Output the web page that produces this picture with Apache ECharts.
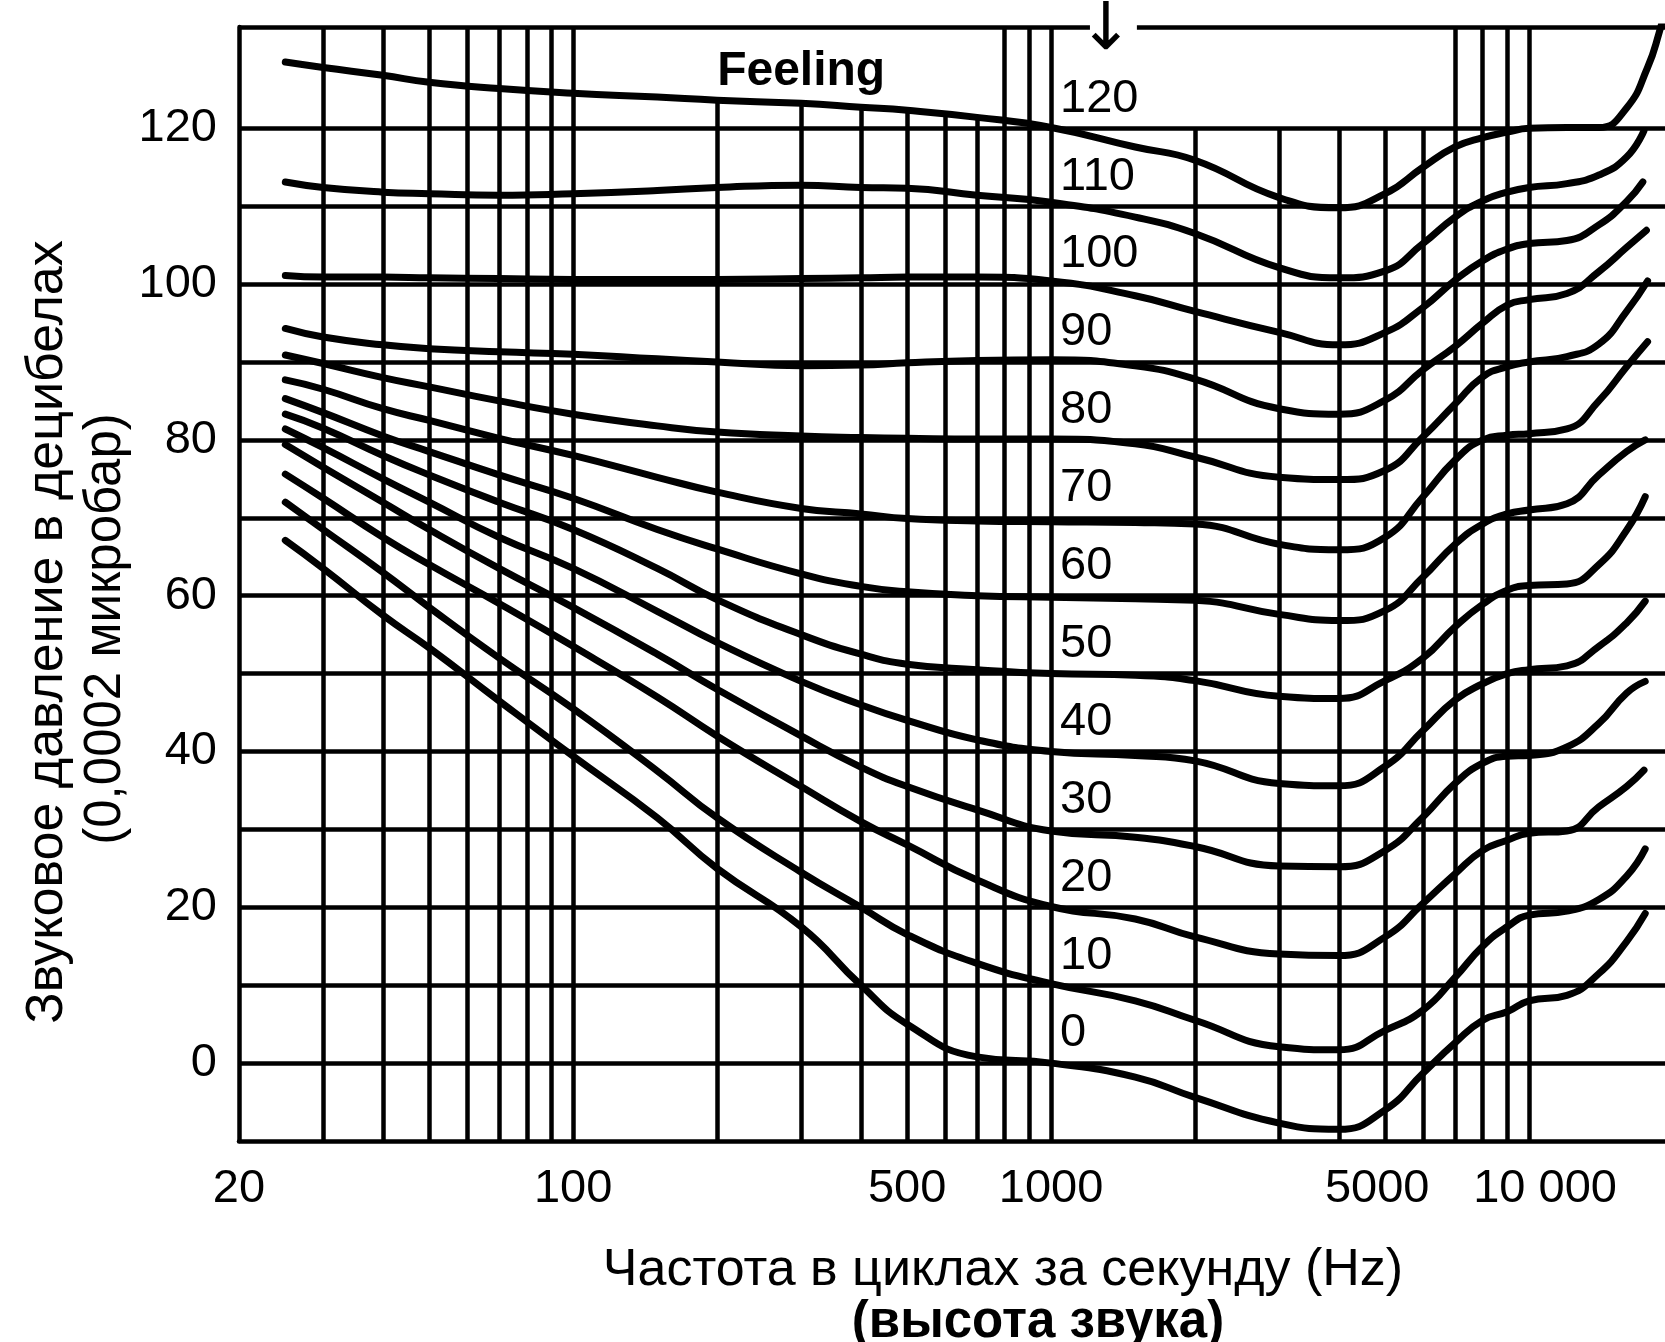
<!DOCTYPE html>
<html><head><meta charset="utf-8">
<script src="https://cdn.jsdelivr.net/npm/echarts@6/dist/echarts.min.js"></script>
<style>html,body{margin:0;padding:0;background:#fff}#c{width:1665px;height:1342px}</style>
</head><body><div id="c"></div>
<script>
// ---------- data ----------
const freq = [25, 30, 40, 50, 70, 100, 150, 200, 300, 400, 500, 700, 1000, 1500, 2000, 3000, 4000, 5000, 6000, 7000, 8000, 9000, 10000, 12000, 14000, 16000];
const phon = [120, 110, 100, 90, 80, 70, 60, 50, 40, 30, 20, 10, 0];
const db120 = [128.5, 127.8, 126.8, 125.9, 125.1, 124.5, 124.0, 123.6, 123.2, 122.7, 122.3, 121.4, 120.1, 117.6, 115.9, 111.1, 109.8, 111.6, 115.0, 117.6, 118.8, 119.5, 120.0, 120.1, 120.1, 122.6];
const db110 = [113.1, 112.4, 111.8, 111.6, 111.4, 111.6, 112.0, 112.4, 112.7, 112.4, 112.3, 111.4, 110.5, 108.6, 106.5, 102.1, 100.8, 101.7, 105.2, 108.6, 110.7, 111.8, 112.4, 112.9, 114.0, 116.3];
const db100 = [101.1, 100.9, 100.9, 100.8, 100.7, 100.6, 100.6, 100.6, 100.7, 100.8, 100.9, 100.9, 100.4, 98.5, 96.5, 93.8, 92.2, 93.8, 97.0, 100.5, 103.0, 104.5, 105.2, 105.6, 107.6, 110.6];
const db90 = [94.3, 93.2, 92.2, 91.7, 91.3, 91.0, 90.4, 90.0, 89.5, 89.6, 89.9, 90.2, 90.3, 89.5, 87.8, 84.0, 83.3, 85.1, 89.0, 92.0, 95.0, 97.3, 98.0, 98.8, 101.6, 104.7];
const db80 = [90.9, 89.8, 88.0, 86.8, 85.0, 83.3, 81.8, 81.0, 80.5, 80.3, 80.2, 80.1, 80.1, 79.5, 77.8, 75.2, 74.9, 76.1, 80.4, 84.6, 88.1, 89.4, 90.0, 90.7, 92.3, 96.5];
const db70 = [87.7, 86.5, 84.0, 82.5, 80.2, 78.0, 75.2, 73.3, 71.2, 70.5, 69.9, 69.6, 69.5, 69.4, 69.2, 66.6, 65.9, 67.5, 72.7, 77.4, 80.0, 80.6, 80.8, 81.4, 85.0, 89.4];
const db60 = [85.3, 83.5, 80.5, 78.5, 75.5, 72.5, 68.5, 66.0, 62.8, 61.2, 60.5, 60.0, 59.8, 59.6, 59.4, 57.6, 56.8, 58.1, 62.4, 66.6, 69.2, 70.5, 71.0, 71.8, 75.5, 78.5];
const db50 = [83.3, 81.5, 78.0, 75.5, 72.0, 68.5, 63.5, 59.5, 55.0, 52.5, 51.2, 50.5, 50.0, 49.8, 49.1, 47.1, 46.8, 49.1, 52.0, 56.0, 58.9, 60.7, 61.3, 61.5, 64.0, 68.4];
const db40 = [81.4, 79.0, 75.0, 72.0, 67.5, 63.5, 58.0, 54.0, 49.0, 46.0, 44.0, 41.5, 40.0, 39.5, 38.8, 35.9, 35.6, 38.1, 42.7, 46.6, 48.7, 50.0, 50.5, 51.0, 53.5, 56.5];
const db30 = [79.4, 76.5, 72.0, 68.5, 63.5, 58.5, 52.5, 48.0, 42.0, 38.0, 35.5, 32.5, 29.8, 29.0, 27.8, 25.3, 25.2, 27.3, 31.6, 35.9, 38.5, 39.4, 39.5, 40.6, 43.6, 47.5];
const db20 = [75.6, 72.5, 67.5, 64.0, 59.0, 53.5, 47.0, 42.0, 35.5, 31.0, 28.0, 23.5, 20.1, 18.5, 16.2, 14.0, 13.8, 16.2, 20.5, 24.3, 27.3, 28.6, 29.5, 29.8, 32.9, 35.5];
const db10 = [72.0, 68.5, 63.0, 58.5, 52.0, 45.5, 37.5, 31.5, 24.5, 20.0, 16.5, 12.8, 10.2, 8.0, 5.5, 2.1, 1.7, 4.2, 6.8, 11.0, 15.0, 17.5, 19.0, 19.5, 21.0, 24.0];
const db0 = [67.1, 63.5, 57.5, 53.3, 46.5, 39.4, 31.5, 25.0, 17.5, 10.0, 5.0, 0.8, 0.0, -1.8, -4.4, -7.7, -8.5, -6.0, -1.3, 2.6, 5.5, 6.6, 8.0, 8.7, 11.5, 15.6];
const curves = [db120, db110, db100, db90, db80, db70, db60, db50, db40, db30, db20, db10, db0];
// high-frequency ends of the curves
const extraFreq120 = [17700, 18700];
const extraDb120 = [127.8, 132.2];
const endFreq = [19600, 17400, 17300, 17600, 17700, 17700, 17500, 17500, 17500, 17500, 17400, 17500, 17500];
const endDb = [137.0, 119.7, 113.1, 106.9, 100.4, 92.6, 80.0, 72.7, 59.3, 49.0, 37.6, 27.5, 19.2];
// grid
const yGridLines = [0, 10, 20, 30, 40, 50, 60, 70, 80, 90, 100, 110, 120];
const xGridFull = [30, 40, 50, 60, 70, 80, 90, 100, 800, 900, 1000, 7000, 8000, 9000, 10000];
const xGridToCurve = [200, 300, 400, 500, 600, 700];
const xGridTo120 = [2000, 3000, 4000, 5000, 6000];
const xTickLabels = [20, 100, 500, 1000, 5000, 10000];
const yTickLabels = [0, 20, 40, 60, 80, 100, 120];

const X_MIN = 20, X_MAX = 19250, Y_MIN = -10, Y_MAX = 133;
const FONT = '"Liberation Sans", Arial, Helvetica, sans-serif';
const INK = '#000000';

function interpCurve(vals, f) {
  const lf = Math.log10(f);
  for (let i = 0; i < freq.length - 1; i++) {
    if (f >= freq[i] && f <= freq[i + 1]) {
      const a = Math.log10(freq[i]), b = Math.log10(freq[i + 1]);
      const t = (lf - a) / (b - a);
      return vals[i] + t * (vals[i + 1] - vals[i]);
    }
  }
  return vals[vals.length - 1];
}

const gridLineData = [];
yGridLines.forEach(v => gridLineData.push([{ coord: [X_MIN, v] }, { coord: [X_MAX, v] }]));
xGridFull.forEach(f => gridLineData.push([{ coord: [f, Y_MIN] }, { coord: [f, Y_MAX] }]));
xGridToCurve.forEach(f => gridLineData.push([{ coord: [f, Y_MIN] }, { coord: [f, interpCurve(db120, f)] }]));
xGridTo120.forEach(f => gridLineData.push([{ coord: [f, Y_MIN] }, { coord: [f, 120] }]));
// top border with a gap for the arrow
gridLineData.push([{ coord: [X_MIN, Y_MAX] }, { coord: [1206, Y_MAX] }]);
gridLineData.push([{ coord: [1512, Y_MAX] }, { coord: [X_MAX, Y_MAX] }]);

const series = [{
  type: 'line', data: [], z: 1, clip: false, silent: true,
  markLine: {
    silent: true, symbol: ['none', 'none'], animation: false,
    label: { show: false },
    lineStyle: { color: INK, width: 4.5, type: 'solid' },
    emphasis: { disabled: true },
    data: gridLineData
  }
}];

curves.forEach((vals, k) => {
  const pts = freq.map((f, i) => [f, vals[i]]);
  if (k === 0) extraFreq120.forEach((f, i) => pts.push([f, extraDb120[i]]));
  pts.push([endFreq[k], endDb[k]]);
  series.push({
    type: 'line', name: phon[k] + '', data: pts, z: 3,
    smooth: 0.5, showSymbol: false, silent: true,
    lineStyle: { color: INK, width: 7, cap: 'round', join: 'round' }
  });
});

// curve labels
series.push({
  type: 'scatter', z: 5, silent: true, symbolSize: 0,
  itemStyle: { opacity: 1 },
  data: phon.map(p => [1000, p + 3.8, p]),
  label: {
    show: true, position: 'right', distance: 9,
    formatter: p => String(p.value[2]),
    fontFamily: FONT, fontSize: 47, color: INK
  }
});
series.push({
  type: 'scatter', z: 5, silent: true, symbolSize: 0,
  itemStyle: { opacity: 1 },
  data: [[300, 127.3]],
  label: { show: true, position: 'inside', formatter: 'Feeling', fontFamily: FONT, fontWeight: 'bold', fontSize: 48, color: INK }
});

const chart = echarts.init(document.getElementById('c'), null, { renderer: 'canvas' });
chart.setOption({
  animation: false,
  backgroundColor: '#ffffff',
  grid: { left: 239, right: 0, top: 27, bottom: 201, containLabel: false },
  xAxis: {
    type: 'log', logBase: 10, min: X_MIN, max: X_MAX,
    axisLine: { show: true, onZero: false, lineStyle: { color: INK, width: 4.5 } },
    axisTick: { show: false },
    splitLine: { show: false },
    minorSplitLine: { show: false },
    axisLabel: {
      customValues: xTickLabels,
      margin: 25, fontFamily: FONT, fontSize: 47, color: INK,
      formatter: v => v === 10000 ? '{r|10 000}' : (v === 5000 ? '{l|5000}' : String(v)),
      rich: {
        r: { padding: [0, 0, 0, 32], fontFamily: FONT, fontSize: 47, color: INK },
        l: { padding: [0, 16, 0, 0], fontFamily: FONT, fontSize: 47, color: INK }
      }
    }
  },
  yAxis: {
    type: 'value', min: Y_MIN, max: Y_MAX, interval: 10,
    axisLine: { show: true, onZero: false, lineStyle: { color: INK, width: 4.5 } },
    axisTick: { show: false },
    splitLine: { show: false },
    axisLabel: {
      margin: 22, fontFamily: FONT, fontSize: 47, color: INK,
      formatter: v => (yTickLabels.indexOf(v) >= 0 ? String(v) : '')
    }
  },
  graphic: [
    { type: 'text', x: 48, y: 632, rotation: Math.PI / 2,
      style: { text: 'Звуковое давление в децибелах', font: '52px ' + FONT, fill: INK, textAlign: 'center', textVerticalAlign: 'middle' } },
    { type: 'text', x: 106, y: 629, rotation: Math.PI / 2,
      style: { text: '(0,0002 микробар)', font: '51px ' + FONT, fill: INK, textAlign: 'center', textVerticalAlign: 'middle' } },
    { type: 'text', x: 1003, y: 1271,
      style: { text: 'Частота в циклах за секунду (Hz)', font: '52px ' + FONT, fill: INK, textAlign: 'center', textVerticalAlign: 'middle' } },
    { type: 'text', x: 1038, y: 1323,
      style: { text: '(высота звука)', font: 'bold 51px ' + FONT, fill: INK, textAlign: 'center', textVerticalAlign: 'middle',
               stroke: '#ffffff', lineWidth: 3 } },
    { type: 'text', x: 1106, y: 32,
      style: { text: '↓', font: '66px "DejaVu Sans", sans-serif', fill: INK, textAlign: 'center', textVerticalAlign: 'middle' } }
  ],
  series: series
});
</script></body></html>
